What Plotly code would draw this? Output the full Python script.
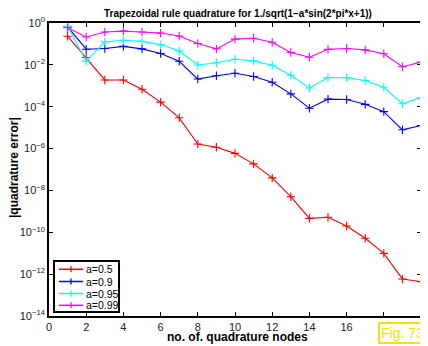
import plotly.graph_objects as go

nodes = list(range(1, 21))
err_a05 = [0.234, 0.0224, 1.9e-3, 1.9e-3, 6.8e-4, 1.66e-4, 2.95e-5, 1.66e-6, 1.15e-6, 5.9e-7,
           1.86e-7, 4.0e-8, 5.0e-9, 4.6e-10, 5.2e-10, 2.0e-10, 5.2e-11, 9.8e-12, 5.9e-13, 4.4e-13]
err_a09 = [0.65, 0.056, 0.060, 0.076, 0.058, 0.035, 0.0148, 2.1e-3, 3.0e-3, 4.0e-3,
           2.8e-3, 1.48e-3, 4.1e-4, 8.5e-5, 2.3e-4, 2.2e-4, 1.3e-4, 5.8e-5, 7.9e-6, 1.26e-5]
err_a095 = [0.69, 0.015, 0.126, 0.151, 0.132, 0.093, 0.047, 9.8e-3, 0.0126, 0.0186,
            0.0155, 9.5e-3, 3.2e-3, 7.9e-4, 2.45e-3, 2.45e-3, 1.8e-3, 8.5e-4, 1.38e-4, 2.75e-4]
err_a099 = [0.60, 0.214, 0.37, 0.41, 0.37, 0.33, 0.24, 0.105, 0.058, 0.17,
            0.186, 0.12, 0.039, 0.023, 0.055, 0.060, 0.052, 0.034, 8.1e-3, 0.0135]

series_names = ["a=0.5", "a=0.9", "a=0.95", "a=0.99"]
series_vals = [err_a05, err_a09, err_a095, err_a099]
series_colors = ["#ff0000", "#0000ff", "#00ffff", "#ff00ff"]

xtick_vals = list(range(0, 21, 2))
ytick_exps = [0, -2, -4, -6, -8, -10, -12, -14]

# the page body has an 8px default margin: size the figure so it fits the 428x346 window
OFF = 8
W, H = 428 - OFF, 346 - OFF
ML, MR, MT, MB = 49 - OFF, 7, 23 - OFF, 30
PW, PH = W - ML - MR, H - MT - MB


def px(x):  # page pixel x -> paper x
    return (x - OFF - ML) / PW


def py(y):  # page pixel y -> paper y
    return (H - MB - (y - OFF)) / PH


FONT = "Liberation Sans, Arial"

fig = go.Figure()
for name, vals, col in zip(series_names, series_vals, series_colors):
    fig.add_trace(go.Scatter(
        x=nodes, y=vals, name=name, mode="lines+markers",
        line=dict(color=col, width=1.1),
        marker=dict(symbol="cross-thin-open", size=6, color=col,
                    line=dict(color=col, width=1.1)),
    ))

axis_common = dict(
    showline=True, linecolor="black", linewidth=1.5, mirror="ticks",
    ticks="inside", ticklen=4, tickcolor="black", showgrid=False, zeroline=False,
    automargin=False,
    tickfont=dict(family=FONT, size=11, color="#222"),
)

# compact MATLAB-style legend
shapes = [dict(type="rect", xref="paper", yref="paper",
               x0=px(54), x1=px(119), y0=py(312), y1=py(261),
               line=dict(color="black", width=2), fillcolor="white", layer="above")]
annotations = []
row_y = [269.3, 281.5, 293.5, 305.3]
for name, col, ry in zip(series_names, series_colors, row_y):
    shapes.append(dict(type="line", xref="paper", yref="paper",
                       x0=px(59), x1=px(83), y0=py(ry), y1=py(ry),
                       line=dict(color=col, width=1.5), layer="above"))
    shapes.append(dict(type="line", xref="paper", yref="paper",
                       x0=px(71), x1=px(71), y0=py(ry - 3), y1=py(ry + 3),
                       line=dict(color=col, width=1.3), layer="above"))
    annotations.append(dict(text=name, xref="paper", yref="paper",
                            x=px(85), y=py(ry), xanchor="left", yanchor="middle",
                            showarrow=False, borderpad=0,
                            font=dict(family=FONT, size=10.5, color="black")))

annotations.append(dict(text="<b>no. of. quadrature nodes</b>", xref="paper", yref="paper",
                        x=px(237), y=py(337), xanchor="center", yanchor="middle",
                        showarrow=False, font=dict(family=FONT, size=12, color="black")))
annotations.append(dict(text="<b>|quadrature error|</b>", xref="paper", yref="paper",
                        x=px(14), y=py(168), xanchor="center", yanchor="middle",
                        textangle=-90, showarrow=False,
                        font=dict(family=FONT, size=12, color="black")))
annotations.append(dict(
    text="Fig. 73", xref="paper", yref="paper", x=px(427), y=py(333),
    xanchor="right", yanchor="middle", showarrow=False,
    font=dict(family=FONT, size=14, color="#f2e400"),
    bgcolor="white", bordercolor="#f2e400", borderwidth=2, borderpad=1,
))

fig.update_layout(
    width=W, height=H,
    margin=dict(l=ML, r=MR, t=MT, b=MB),
    paper_bgcolor="white", plot_bgcolor="white",
    title=dict(text="<b>Trapezoidal rule quadrature for 1./sqrt(1\u2212a*sin(2*pi*x+1))</b>",
               x=(238 - OFF) / W, xanchor="center", y=1 - (13 - OFF) / H, yanchor="middle",
               font=dict(family=FONT, size=10, color="black")),
    xaxis=dict(range=[0, 20], tickvals=xtick_vals,
               ticktext=[str(v) for v in xtick_vals], **axis_common),
    yaxis=dict(type="log", range=[-14, 0],
               tickvals=[10.0 ** e for e in ytick_exps],
               ticktext=["10<sup>%s</sup>" % (str(e).replace("-", "\u2212")) for e in ytick_exps],
               **axis_common),
    showlegend=False,
    shapes=shapes,
    annotations=annotations,
)

fig.write_html("out.html")
